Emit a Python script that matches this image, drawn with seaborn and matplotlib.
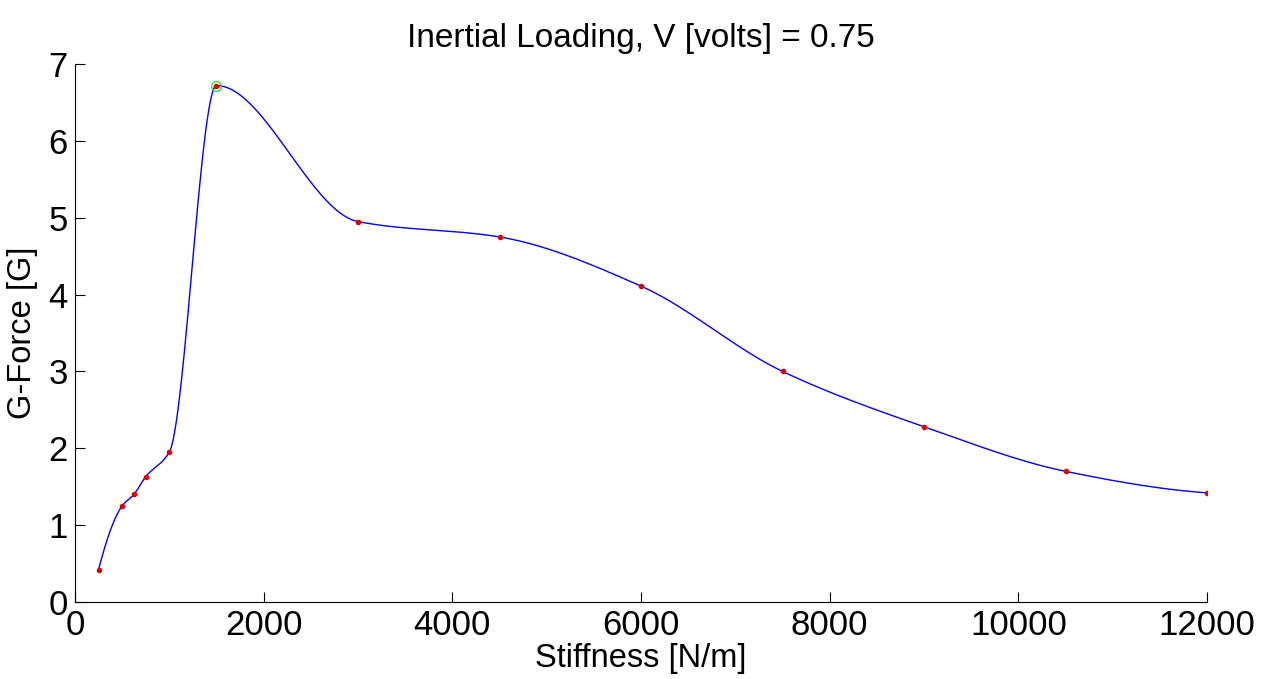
import matplotlib
matplotlib.use('Agg')
import matplotlib.pyplot as plt
import numpy as np
import pandas as pd
import seaborn as sns

# data
stiffness = [250, 500, 625, 750, 1000, 1500, 3000, 4500, 6000, 7500, 9000, 10500, 12000]
gforce = [0.42, 1.25, 1.40, 1.63, 1.95, 6.72, 4.95, 4.75, 4.11, 3.00, 2.28, 1.70, 1.42]
x_ticks = [0, 2000, 4000, 6000, 8000, 10000, 12000]
y_ticks = [0, 1, 2, 3, 4, 5, 6, 7]


def end_slope(h0, h1, d0, d1):
    s = ((2 * h0 + h1) * d0 - h0 * d1) / (h0 + h1)
    if np.sign(s) != np.sign(d0):
        s = 0.0
    elif np.sign(d0) != np.sign(d1) and abs(s) > abs(3 * d0):
        s = 3 * d0
    return s


def pchip_curve(x, y, num=2000):
    # shape-preserving piecewise cubic through the points (like MATLAB's pchip)
    x = np.asarray(x, float)
    y = np.asarray(y, float)
    n = len(x)
    h = np.diff(x)
    delta = np.diff(y) / h
    d = np.zeros(n)
    for k in range(1, n - 1):
        if delta[k - 1] * delta[k] > 0:
            w1 = 2 * h[k] + h[k - 1]
            w2 = h[k] + 2 * h[k - 1]
            d[k] = (w1 + w2) / (w1 / delta[k - 1] + w2 / delta[k])
    d[0] = end_slope(h[0], h[1], delta[0], delta[1])
    d[-1] = end_slope(h[-1], h[-2], delta[-1], delta[-2])
    xs = np.linspace(x[0], x[-1], num)
    idx = np.clip(np.searchsorted(x, xs) - 1, 0, n - 2)
    t = (xs - x[idx]) / h[idx]
    h00 = 2 * t ** 3 - 3 * t ** 2 + 1
    h10 = t ** 3 - 2 * t ** 2 + t
    h01 = -2 * t ** 3 + 3 * t ** 2
    h11 = t ** 3 - t ** 2
    ys = h00 * y[idx] + h10 * h[idx] * d[idx] + h01 * y[idx + 1] + h11 * h[idx] * d[idx + 1]
    return xs, ys


df = pd.DataFrame({'Stiffness': stiffness, 'G': gforce})
xs, ys = pchip_curve(df['Stiffness'], df['G'])
curve = pd.DataFrame({'Stiffness': xs, 'G': ys})
peak = df.loc[df['G'].idxmax()]

sns.set_style('ticks')
plt.rcParams['font.family'] = ['Liberation Sans', 'DejaVu Sans']
plt.rcParams['text.color'] = 'black'
plt.rcParams['axes.labelcolor'] = 'black'

fig = plt.figure(figsize=(12.68, 6.79), dpi=100)
ax = fig.add_axes([0.0591, 0.1134, 0.8929, 0.7923])

sns.lineplot(data=curve, x='Stiffness', y='G', ax=ax, color='#0000ff', linewidth=1.0, sort=False)
ax.plot(df['Stiffness'], df['G'], linestyle='none', marker='.', color='#e00000', markersize=6)
ax.plot([peak['Stiffness']], [peak['G']], linestyle='none', marker='o', markersize=7,
        markerfacecolor='none', markeredgecolor='#33dd33', markeredgewidth=1.0)

ax.set_xlim(0, 12000)
ax.set_ylim(0, 7)
ax.set_xticks(x_ticks)
ax.set_yticks(y_ticks)
ax.tick_params(direction='in', length=7, width=0.8, labelsize=25, pad=5, colors='black')
sns.despine(ax=ax)
for s in ['left', 'bottom']:
    ax.spines[s].set_linewidth(0.8)
    ax.spines[s].set_color('black')

ax.set_xlabel('Stiffness [N/m]', fontsize=23.5, labelpad=1, color='black')
ax.set_ylabel('G-Force [G]', fontsize=23.5, labelpad=8, color='black')
ax.set_title('Inertial Loading, V [volts] = 0.75', fontsize=24, pad=12, color='black')

fig.savefig('out.png', dpi=100, facecolor='white')
